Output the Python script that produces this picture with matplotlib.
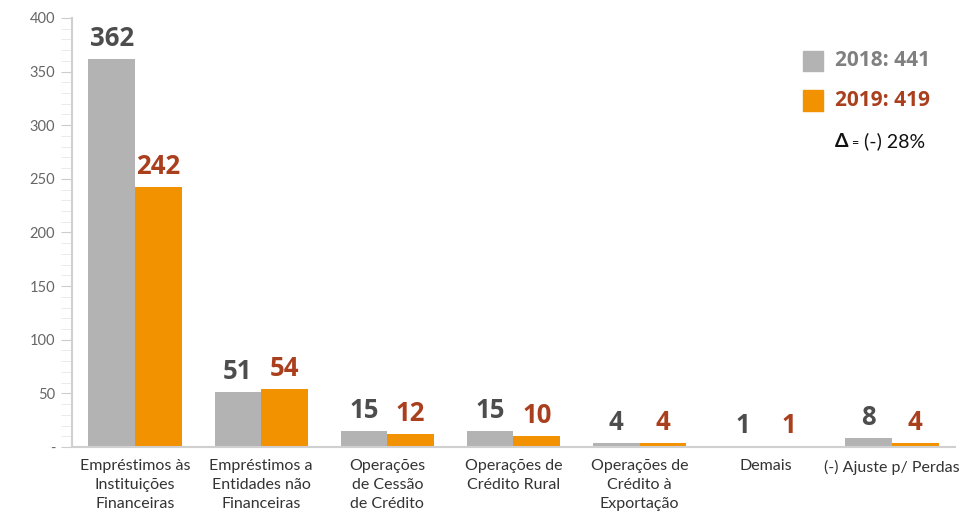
import matplotlib.pyplot as plt
import numpy as np
from matplotlib.patches import Rectangle
from matplotlib.ticker import MultipleLocator, FixedLocator

plt.rcParams['font.family'] = ['Lato', 'DejaVu Sans']

categorias = ['Empréstimos às\nInstituições\nFinanceiras',
              'Empréstimos a\nEntidades não\nFinanceiras',
              'Operações\nde Cessão\nde Crédito',
              'Operações de\nCrédito Rural',
              'Operações de\nCrédito à\nExportação',
              'Demais',
              '(-) Ajuste p/ Perdas']
v2018 = [362, 51, 15, 15, 4, 1, 8]
v2019 = [242, 54, 12, 10, 4, 1, 4]
total2018 = 441
total2019 = 419
delta = '(-) 28%'

cinza = '#b3b3b3'
laranja = '#f39200'
txt_cinza = '#4d4d4d'
txt_laranja = '#a93f1d'
fonte_num = ['Open Sans', 'DejaVu Sans']

fig = plt.figure(figsize=(9.65, 5.13), dpi=100)
ax = fig.add_axes([0.0746, 0.1287, 0.915, 0.8363])

x = np.arange(len(categorias))
w = 0.37
b1 = ax.bar(x - w / 2, v2018, w, color=cinza)
b2 = ax.bar(x + w / 2, v2019, w, color=laranja)

for rect, v in zip(b1, v2018):
    ax.annotate(str(v), (rect.get_x() + rect.get_width() / 2, rect.get_height()),
                xytext=(0, 5), textcoords='offset points', ha='center', va='bottom',
                fontsize=18.5, fontweight='bold', color=txt_cinza, family=fonte_num)
for rect, v in zip(b2, v2019):
    ax.annotate(str(v), (rect.get_x() + rect.get_width() / 2, rect.get_height()),
                xytext=(0, 5), textcoords='offset points', ha='center', va='bottom',
                fontsize=18.5, fontweight='bold', color=txt_laranja, family=fonte_num)

ax.set_xlim(-0.5, len(categorias) - 0.5)
ax.set_ylim(0, 400)
ax.set_xticks(x)
ax.set_xticklabels(categorias, fontsize=11.5, color='#333333', linespacing=1.45)
ax.tick_params(axis='x', length=0, pad=9)

ax.yaxis.set_major_locator(FixedLocator(range(0, 401, 50)))
ax.set_yticklabels(['-'] + [str(t) for t in range(50, 401, 50)])
ax.yaxis.set_minor_locator(MultipleLocator(10))
ax.tick_params(axis='y', which='major', length=8, color='#cccccc', labelsize=10.5,
               labelcolor='#666666', pad=4)
ax.tick_params(axis='y', which='minor', length=8, color='#e6e6e6')

for s in ['top', 'right']:
    ax.spines[s].set_visible(False)
for s in ['left', 'bottom']:
    ax.spines[s].set_color('#d0d0d0')
    ax.spines[s].set_linewidth(1.5)

# legenda
ax.add_patch(Rectangle((0.828, 0.877), 0.0225, 0.047, transform=ax.transAxes,
                       color=cinza, clip_on=False))
ax.add_patch(Rectangle((0.828, 0.784), 0.0225, 0.047, transform=ax.transAxes,
                       color=laranja, clip_on=False))
ax.text(0.864, 0.900, f'2018: {total2018}', transform=ax.transAxes, fontsize=15,
        fontweight='bold', color='#808080', va='center', family=fonte_num)
ax.text(0.864, 0.807, f'2019: {total2019}', transform=ax.transAxes, fontsize=15,
        fontweight='bold', color=txt_laranja, va='center', family=fonte_num)
ax.text(0.864, 0.712, 'Δ', transform=ax.transAxes, fontsize=14,
        fontweight='bold', color='#111111', va='center')
ax.text(0.882, 0.709, '=', transform=ax.transAxes, fontsize=9,
        color='#111111', va='center')
ax.text(0.897, 0.712, delta, transform=ax.transAxes, fontsize=14,
        color='#111111', va='center')

fig.savefig('out.png', dpi=100)
